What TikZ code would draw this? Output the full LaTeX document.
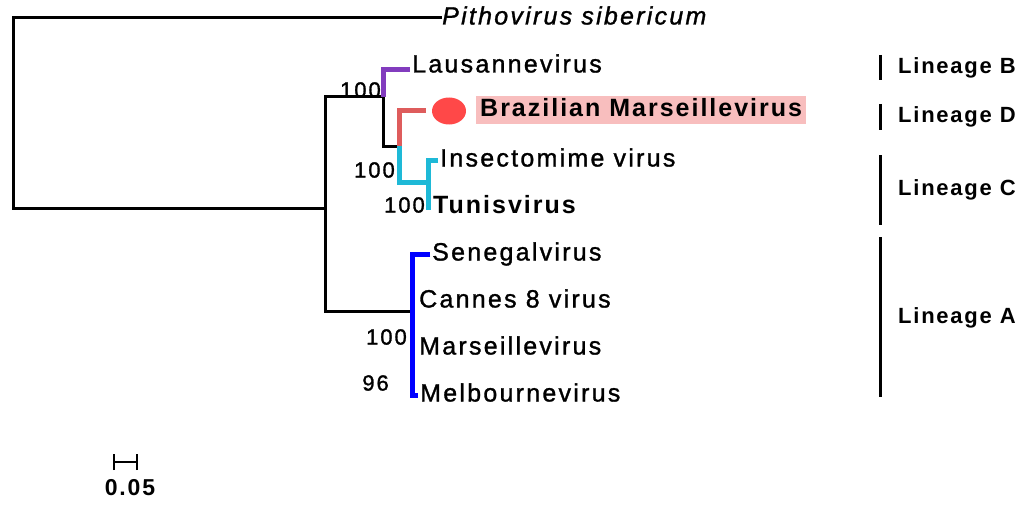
\documentclass[tikz,border=0pt]{standalone}
\usepackage{fontspec}
\setmainfont{Liberation Sans}[LetterSpace=9,UprightFeatures={FakeBold=1.2},ItalicFeatures={FakeBold=1.2},BoldFeatures={LetterSpace=8}]
\usepackage{tikz}
\usetikzlibrary{shapes.geometric}

\definecolor{cladeB}{RGB}{130,60,190}
\definecolor{cladeD}{RGB}{222,92,92}
\definecolor{cladeC}{RGB}{30,185,215}
\definecolor{cladeA}{RGB}{0,0,255}
\definecolor{brazdot}{RGB}{255,72,72}
\definecolor{brazbg}{RGB}{248,190,190}

\begin{document}
\begin{tikzpicture}[x=1pt,y=-1pt,
  tree/.style={line width=3pt,line cap=rect},
  clade/.style={line width=5pt},
  leaf/.style={anchor=west,inner sep=2pt,text height=18pt,text depth=5pt,font=\fontsize{25}{30}\selectfont},
  boot/.style={anchor=east,inner sep=1pt,font=\fontsize{22}{26}\selectfont},
  lineage/.style={anchor=west,inner sep=0pt,font=\fontsize{22}{27}\selectfont\bfseries\addfontfeatures{LetterSpace=4}},
  bar/.style={line width=3pt}]
%\draw[help lines] (0,0) grid (1024,508);
\useasboundingbox (0,0) rectangle (1024,508);
% leaves
\node (pith) [leaf] at (440,18) {\itshape Pithovirus sibericum};
\node (laus) [leaf] at (410,66) {Lausannevirus};
\node (dot) [fill=brazdot,ellipse,minimum width=34pt,minimum height=27pt,inner sep=0pt] at (449,111) {};
\node (braz) [leaf,fill=brazbg,inner xsep=4pt] at (476,110) {\bfseries Brazilian Marseillevirus};
\node (ins) [leaf] at (438,160) {Insectomime virus};
\node (tun) [leaf] at (431,207) {\bfseries Tunisvirus};
\node (sen) [leaf] at (430,254) {Senegalvirus};
\node (can) [leaf] at (417,301) {Cannes 8 virus};
\node (mar) [leaf] at (417,348) {Marseillevirus};
\node (mel) [leaf] at (418,395) {Melbournevirus};
% internal nodes
\coordinate (r) at (13,208);
\coordinate (m) at (325,208);
\coordinate (bcd) at (383,97);
\coordinate (cd) at (399,146);
\coordinate (c) at (428,182);
\coordinate (a) at (412,311);
% branches
\draw[tree] (pith.west) -| (r) -- (m);
\draw[tree] (m) |- (bcd);
\draw[tree] (m) |- (a);
\draw[tree] (bcd) |- (cd);
\draw[clade,cladeB] (bcd) |- ([yshift=-4pt]laus.west);
\draw[clade,cladeD] (cd) |- ([xshift=-6pt]dot.west);
\draw[clade,cladeC] (cd) |- (c);
\draw[clade,cladeC] (ins.west) -| (c) |- (tun.west);
\draw[clade,cladeA] (sen.west) -| (a) |- (mel.west);
% support values
\node (b1) [boot] at (382,90) {100};
\node (b2) [boot] at (396,170) {100};
\node (b3) [boot] at (426,205) {100};
\node (b4) [boot] at (408,337) {100};
\node (b5) [boot] at (390,383) {96};
% lineages
\node (linB) [lineage] at (898,68) {Lineage B};
\node (linD) [lineage] at (898,117) {Lineage D};
\node (linC) [lineage] at (898,190) {Lineage C};
\node (linA) [lineage] at (898,318) {Lineage A};
\draw[bar] (880,55) -- (880,80);
\draw[bar] (880,104) -- (880,130);
\draw[bar] (880,155) -- (880,225);
\draw[bar] (880,237) -- (880,397);
% scale
\coordinate (s1) at (114,462);
\coordinate (s2) at (137,462);
\draw[line width=2.5pt] (s1) -- (s2);
\draw[line width=2.5pt] ([yshift=-8pt]s1) -- ([yshift=8pt]s1);
\draw[line width=2.5pt] ([yshift=-8pt]s2) -- ([yshift=8pt]s2);
\node (scale) [font=\fontsize{23}{27}\selectfont\bfseries,inner sep=0pt] at (130,488) {0.05};
\end{tikzpicture}
\end{document}
